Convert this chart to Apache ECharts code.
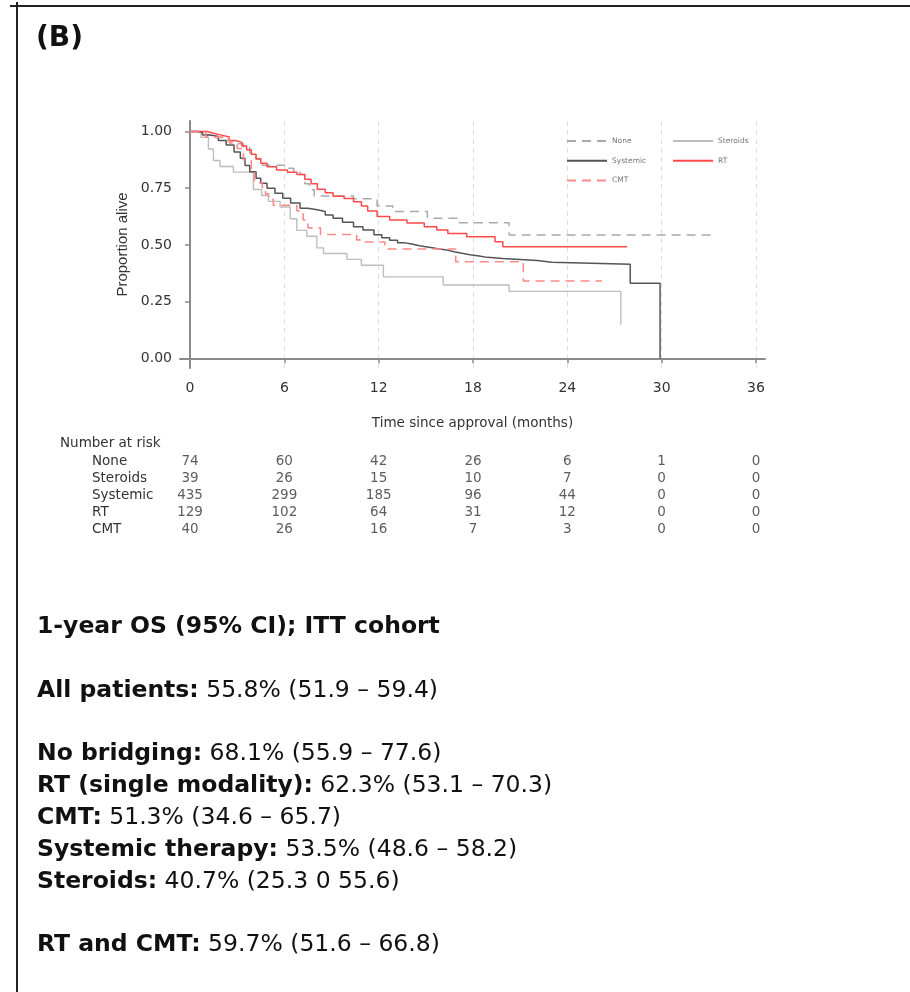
<!DOCTYPE html>
<html>
<head>
<meta charset="utf-8">
<script src="https://cdn.jsdelivr.net/npm/echarts@6/dist/echarts.min.js"></script>
<style>
  html, body { margin: 0; padding: 0; background: #fff; }
  #chart { width: 910px; height: 992px; }
</style>
</head>
<body>
<div id="chart"></div>
<script>
// Kaplan-Meier curves: [months, proportion alive]
const noneCurve = [[0,1],[1.0,0.986],[1.6,0.973],[2.4,0.959],[3.0,0.946],[3.4,0.932],[3.8,0.905],[4.2,0.878],[4.6,0.851],[6.2,0.838],[6.6,0.824],[7.0,0.81],[7.3,0.77],[7.6,0.743],[7.9,0.716],[10.4,0.703],[11.9,0.672],[12.9,0.647],[15.1,0.618],[17.0,0.598],[20.3,0.544],[33.3,0.544]]
const steroidsCurve = [[0,1],[0.7,0.974],[1.17,0.923],[1.49,0.872],[1.91,0.846],[2.76,0.821],[4.03,0.744],[4.56,0.718],[4.99,0.692],[5.73,0.667],[6.37,0.615],[6.79,0.564],[7.43,0.538],[8.07,0.487],[8.49,0.462],[9.98,0.436],[10.9,0.41],[12.3,0.359],[16.1,0.323],[20.3,0.295],[27.4,0.148]]
const systemicCurve = [[0,1],[0.5,0.995],[0.8,0.985],[1.3,0.978],[1.8,0.96],[2.3,0.941],[2.8,0.91],[3.2,0.882],[3.5,0.85],[3.8,0.823],[4.2,0.794],[4.5,0.772],[4.9,0.75],[5.4,0.728],[5.9,0.706],[6.4,0.685],[7.0,0.662],[7.5,0.655],[8.1,0.647],[8.6,0.632],[9.1,0.618],[9.7,0.6],[10.4,0.58],[11.0,0.566],[11.7,0.545],[12.2,0.532],[12.7,0.52],[13.2,0.51],[13.6,0.504],[14.1,0.496],[14.6,0.49],[15.2,0.484],[15.7,0.478],[16.3,0.47],[16.8,0.463],[17.3,0.457],[17.8,0.451],[18.4,0.445],[18.9,0.44],[19.9,0.436],[21.0,0.431],[22.1,0.423],[23.0,0.415],[28.0,0.331],[29.9,0]]
const rtCurve = [[0,1],[1.1,0.992],[1.5,0.984],[2.0,0.976],[2.5,0.96],[2.9,0.952],[3.3,0.936],[3.6,0.92],[3.9,0.9],[4.2,0.88],[4.5,0.86],[4.9,0.845],[5.5,0.83],[6.2,0.82],[6.8,0.81],[7.3,0.79],[7.7,0.77],[8.1,0.745],[8.6,0.73],[9.1,0.715],[9.8,0.705],[10.4,0.69],[10.9,0.672],[11.3,0.65],[11.9,0.625],[12.7,0.61],[13.8,0.596],[14.9,0.58],[15.7,0.566],[16.4,0.55],[17.6,0.536],[19.4,0.514],[19.9,0.492],[27.8,0.492]]
const cmtCurve = [[0,1],[1.0,0.975],[2.5,0.95],[3.0,0.925],[3.4,0.875],[3.9,0.825],[4.1,0.775],[4.6,0.75],[4.8,0.725],[5.0,0.7],[5.3,0.675],[6.8,0.65],[7.2,0.61],[7.5,0.575],[8.3,0.546],[10.6,0.522],[11.0,0.513],[12.4,0.482],[16.9,0.426],[21.2,0.341],[26.2,0.341]]

const groups = ['None', 'Steroids', 'Systemic', 'RT', 'CMT']
const xTicks = [0, 6, 12, 18, 24, 30, 36]
const yTicks = [0, 0.25, 0.5, 0.75, 1]

// number at risk, at xTicks
const riskNone = [74, 60, 42, 26, 6, 1, 0]
const riskSteroids = [39, 26, 15, 10, 7, 0, 0]
const riskSystemic = [435, 299, 185, 96, 44, 0, 0]
const riskRT = [129, 102, 64, 31, 12, 0, 0]
const riskCMT = [40, 26, 16, 7, 3, 0, 0]

const osHeading = '1-year OS (95% CI); ITT cohort'
const osLabels = ['All patients:', 'No bridging:', 'RT (single modality):', 'CMT:', 'Systemic therapy:', 'Steroids:', 'RT and CMT:']
const osValues = [' 55.8% (51.9 – 59.4)', ' 68.1% (55.9 – 77.6)', ' 62.3% (53.1 – 70.3)', ' 51.3% (34.6 – 65.7)', ' 53.5% (48.6 – 58.2)', ' 40.7% (25.3 0 55.6)', ' 59.7% (51.6 – 66.8)']
const osRows = [2, 4, 5, 6, 7, 8, 10]   // line number below the heading

const font = 'DejaVu Sans'
const axisGrey = '#8a8a8a'
const xMin = -0.637, xMax = 36.573

let chart = echarts.init(document.getElementById('chart'))

let curves = [noneCurve, steroidsCurve, systemicCurve, rtCurve, cmtCurve]
let lineStyles = [
    {color: '#a9a9a9', width: 1.5, type: [9, 6]},
    {color: '#bdbdbd', width: 1.4, type: 'solid'},
    {color: '#555555', width: 1.5, type: 'solid'},
    {color: '#ff4a4a', width: 1.5, type: 'solid'},
    {color: '#ff8a8a', width: 1.6, type: [9, 6]}
]
let risk = [riskNone, riskSteroids, riskSystemic, riskRT, riskCMT]

let series = []
groups.forEach(function (g, i) {
    series.push({
        name: g,
        type: 'line',
        step: 'end',
        symbol: 'none',
        xAxisIndex: 0,
        yAxisIndex: 0,
        color: lineStyles[i].color,
        lineStyle: lineStyles[i],
        data: curves[i]
    })
})
groups.forEach(function (g, i) {
    series.push({
        type: 'scatter',
        xAxisIndex: 1,
        yAxisIndex: 1,
        symbolSize: 1,
        itemStyle: {color: 'transparent'},
        label: {
            show: true,
            position: 'inside',
            color: '#333',
            fontFamily: font,
            fontSize: 13.5,
            formatter: function (p) { return p.value[2] }
        },
        data: xTicks.map(function (t, k) { return [t, g, risk[i][k]] })
    })
})

let titles = [
    {text: '(B)', left: 36, top: 25, padding: 0,
        textStyle: {fontFamily: font, fontWeight: 'bold', fontSize: 28, lineHeight: 28, color: '#111'}},
    {text: 'Number at risk', left: 60, top: 435, padding: 0,
        textStyle: {fontFamily: font, fontWeight: 'normal', fontSize: 13.5, lineHeight: 16, color: '#333'}},
    {text: '{b|' + osHeading + '}', left: 37, top: 627 - 14, padding: 0,
        textStyle: {rich: {b: {fontFamily: font, fontWeight: 'bold', fontSize: 23.5, lineHeight: 28, color: '#111'}}}}
]
let lineStep = 31.8
osLabels.forEach(function (lab, i) {
    titles.push({
        text: '{b|' + lab + '}{r|' + osValues[i] + '}',
        left: 37,
        top: 627 + osRows[i] * lineStep - 14,
        padding: 0,
        textStyle: {
            rich: {
                b: {fontFamily: font, fontWeight: 'bold', fontSize: 23.5, lineHeight: 28, color: '#111'},
                r: {fontFamily: font, fontWeight: 'normal', fontSize: 23.5, lineHeight: 28, color: '#111'}
            }
        }
    })
})

let legendBase = {
    orient: 'vertical',
    top: 137,
    itemWidth: 40,
    itemHeight: 10,
    itemGap: 11.7,
    padding: 0,
    selectedMode: false,
    itemStyle: {opacity: 0},
    textStyle: {fontFamily: font, fontSize: 7.5, color: '#777'}
}

let option = {
    backgroundColor: '#fff',
    animation: false,
    title: titles,
    legend: [
        Object.assign({}, legendBase, {left: 566, data: ['None', 'Systemic', 'CMT']}),
        Object.assign({}, legendBase, {left: 672, data: ['Steroids', 'RT']})
    ],
    grid: [
        {left: 180, top: 121, width: 585, height: 247},
        {left: 180, top: 452.5, width: 585, height: 85.5}
    ],
    xAxis: [{
        gridIndex: 0,
        type: 'value',
        min: xMin,
        max: xMax,
        name: 'Time since approval (months)',
        nameLocation: 'middle',
        nameGap: 48,
        nameTextStyle: {fontFamily: font, fontSize: 13.5, color: '#333'},
        axisLine: {lineStyle: {color: axisGrey, width: 2}},
        axisTick: {show: true, length: 5, customValues: xTicks, lineStyle: {color: axisGrey, width: 1.5}},
        axisLabel: {customValues: xTicks, margin: 13, fontFamily: font, fontSize: 14, color: '#333'},
        splitLine: {show: true, lineStyle: {color: '#dedede', width: 1, type: [5, 4]}}
    }, {
        gridIndex: 1,
        type: 'value',
        min: xMin,
        max: xMax,
        show: false
    }],
    yAxis: [{
        gridIndex: 0,
        type: 'value',
        min: -0.0428,
        max: 1.0463,
        name: 'Proportion alive',
        nameLocation: 'middle',
        nameGap: 46,
        nameTextStyle: {fontFamily: 'Liberation Sans', fontSize: 15, color: '#333'},
        axisLine: {show: true, lineStyle: {color: axisGrey, width: 2}},
        axisTick: {show: true, length: 5, customValues: yTicks, lineStyle: {color: axisGrey, width: 1.5}},
        axisLabel: {
            customValues: yTicks, margin: 8, fontFamily: font, fontSize: 14, color: '#333',
            formatter: function (v) { return v.toFixed(2) }
        },
        splitLine: {show: false}
    }, {
        gridIndex: 1,
        type: 'category',
        inverse: true,
        data: groups,
        axisLine: {show: false},
        axisTick: {show: false},
        axisLabel: {interval: 0, hideOverlap: false, align: 'left', margin: 88, fontFamily: font, fontSize: 13.5, color: '#333'}
    }],
    graphic: [
        {type: 'line', shape: {x1: 10, y1: 6, x2: 910, y2: 6}, style: {stroke: '#222', lineWidth: 2}},
        {type: 'line', shape: {x1: 17, y1: 2, x2: 17, y2: 992}, style: {stroke: '#222', lineWidth: 2}}
    ],
    series: series
}

chart.setOption(option)
</script>
</body>
</html>
